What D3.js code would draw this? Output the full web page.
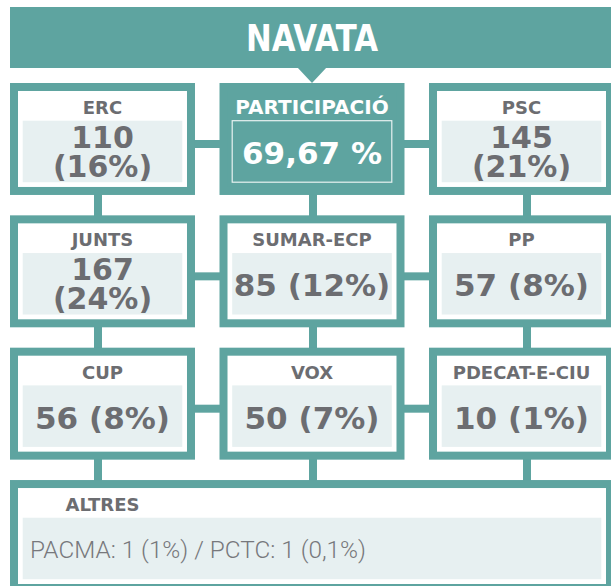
<!DOCTYPE html>
<html>
<head>
<meta charset="utf-8">
<script src="https://cdn.jsdelivr.net/npm/d3@7"></script>
<style>
  html, body { margin: 0; padding: 0; background: #fff; overflow: hidden; }
</style>
</head>
<body>
<svg id="main-svg" width="611" height="586"></svg>
<script>
// Chart data
const title = 'NAVATA';
const participationLabel = 'PARTICIPACIÓ';
const participation = 69.67;

const partyNames = ['ERC', 'PSC', 'JUNTS', 'SUMAR-ECP', 'PP', 'CUP', 'VOX', 'PDECAT-E-CIU'];
const partyVotes = [110, 145, 167, 85, 57, 56, 50, 10];
const partyShares = [16, 21, 24, 12, 8, 8, 7, 1];
// grid cell (row, col) of each party
const partyRows = [0, 0, 1, 1, 1, 2, 2, 2];
const partyCols = [0, 2, 0, 1, 2, 0, 1, 2];

const othersLabel = 'ALTRES';
const otherNames = ['PACMA', 'PCTC'];
const otherVotes = [1, 1];
const otherShares = ['1%', '0,1%'];

// Colours
const teal = '#5ea4a0';
const panelFill = '#e7f0f1';
const grey = '#6c6d71';

const caLocale = d3.formatLocale({ decimal: ',', thousands: '.', grouping: [3], currency: ['', ' €'] });
const fmt2 = caLocale.format('.2f');

const svg = d3.select('#main-svg');
svg.append('rect').attr('width', 611).attr('height', 586).attr('fill', '#fff');

// Layout scales
const x = d3.scaleBand().domain([0, 1, 2]).range([10, 614]).paddingInner(0.117);
const y = d3.scaleBand().domain([0, 1, 2, 3]).range([83, 592]).paddingInner(0.154);
const bw = x.bandwidth();
const bh = y.bandwidth();
const linkOffset = [-4.5, 1, 5.5];
const sw = 8;

// Connectors
const links = svg.append('g');
[0, 1, 2].forEach(r => {
    links.append('rect')
        .attr('x', x(0) + bw / 2)
        .attr('y', y(r) + 57)
        .attr('width', x(2) - x(0))
        .attr('height', 8)
        .attr('fill', teal);
});
[0, 1, 2].forEach(c => {
    links.append('rect')
        .attr('x', x(c) + bw / 2 + linkOffset[c] - 4)
        .attr('y', y(0) + bh / 2)
        .attr('width', 8)
        .attr('height', y(3) - y(0))
        .attr('fill', teal);
});

// Header band
svg.append('rect')
    .attr('x', 10).attr('y', 7)
    .attr('width', 601).attr('height', 61)
    .attr('fill', teal);
const cx1 = x(1) + bw / 2;
svg.append('path')
    .attr('d', `M${cx1 - 15},67 L${cx1 + 15},67 L${cx1},${y(0)} Z`)
    .attr('fill', teal);
svg.append('text')
    .attr('x', cx1).attr('y', 51)
    .attr('text-anchor', 'middle')
    .attr('font-family', '"Liberation Sans Narrow", "DejaVu Sans Condensed", sans-serif')
    .attr('font-weight', 'bold')
    .attr('font-size', 37)
    .attr('textLength', 132)
    .attr('lengthAdjust', 'spacingAndGlyphs')
    .attr('fill', '#fff')
    .text(title);

// Party boxes
const partyData = partyNames.map((name, i) => ({
    name, votes: partyVotes[i], share: partyShares[i], row: partyRows[i], col: partyCols[i]
}));

const cells = svg.selectAll('.cell')
    .data(partyData)
    .enter()
    .append('g')
    .attr('class', 'cell')
    .attr('transform', d => `translate(${x(d.col)}, ${y(d.row)})`);

cells.append('rect')
    .attr('x', sw / 2).attr('y', sw / 2)
    .attr('width', bw - sw).attr('height', bh - sw)
    .attr('fill', '#fff')
    .attr('stroke', teal)
    .attr('stroke-width', sw);

cells.append('rect')
    .attr('x', 12.7).attr('y', 37.7)
    .attr('width', bw - 25.4).attr('height', 61.5)
    .attr('fill', panelFill);

cells.append('text')
    .attr('x', bw / 2).attr('y', 31)
    .attr('text-anchor', 'middle')
    .attr('font-family', '"DejaVu Sans", sans-serif')
    .attr('font-weight', 'bold')
    .attr('font-size', 18)
    .attr('fill', grey)
    .text(d => d.name);

cells.each(function (d) {
    const g = d3.select(this);
    const t = g.append('text')
        .attr('text-anchor', 'middle')
        .attr('font-family', '"DejaVu Sans", sans-serif')
        .attr('font-weight', 'bold')
        .attr('fill', grey);
    if (d.votes >= 100) {
        t.attr('font-size', 30);
        t.append('tspan').attr('x', bw / 2).attr('y', 65).text(d.votes);
        t.append('tspan').attr('x', bw / 2).attr('y', 93.5).text(`(${d.share}%)`);
    } else {
        t.attr('font-size', 31)
            .attr('x', bw / 2).attr('y', 81)
            .text(`${d.votes} (${d.share}%)`);
    }
});

// Participation box
const pg = svg.append('g').attr('transform', `translate(${x(1)}, ${y(0)})`);
pg.append('rect')
    .attr('x', sw / 2).attr('y', sw / 2)
    .attr('width', bw - sw).attr('height', bh - sw)
    .attr('fill', teal)
    .attr('stroke', teal)
    .attr('stroke-width', sw);
pg.append('rect')
    .attr('x', 12.7).attr('y', 37.7)
    .attr('width', bw - 25.4).attr('height', 61.5)
    .attr('fill', 'none')
    .attr('stroke', '#fff')
    .attr('stroke-opacity', 0.85)
    .attr('stroke-width', 1.2);
pg.append('text')
    .attr('x', bw / 2).attr('y', 30.5)
    .attr('text-anchor', 'middle')
    .attr('font-family', '"DejaVu Sans", sans-serif')
    .attr('font-weight', 'bold')
    .attr('font-size', 20)
    .attr('fill', '#fff')
    .text(participationLabel);
pg.append('text')
    .attr('x', bw / 2).attr('y', 80.5)
    .attr('text-anchor', 'middle')
    .attr('font-family', '"DejaVu Sans", sans-serif')
    .attr('font-weight', 'bold')
    .attr('font-size', 31)
    .attr('fill', '#fff')
    .text(`${fmt2(participation)} %`);

// Others box
const og = svg.append('g').attr('transform', `translate(${x(0)}, ${y(3)})`);
const ow = x(2) + bw - x(0);
og.append('rect')
    .attr('x', sw / 2).attr('y', sw / 2)
    .attr('width', ow - sw).attr('height', bh - sw)
    .attr('fill', '#fff')
    .attr('stroke', teal)
    .attr('stroke-width', sw);
og.append('rect')
    .attr('x', 12.7).attr('y', 37.7)
    .attr('width', ow - 25.4).attr('height', 61.5)
    .attr('fill', panelFill);
og.append('text')
    .attr('x', bw / 2).attr('y', 31)
    .attr('text-anchor', 'middle')
    .attr('font-family', '"DejaVu Sans", sans-serif')
    .attr('font-weight', 'bold')
    .attr('font-size', 18)
    .attr('fill', grey)
    .text(othersLabel);
og.append('text')
    .attr('x', 20).attr('y', 78)
    .attr('font-family', 'Roboto, Lato, "Open Sans", sans-serif')
    .attr('font-weight', 300)
    .attr('font-size', 23)
    .attr('fill', '#77787c')
    .attr('textLength', 336)
    .attr('lengthAdjust', 'spacingAndGlyphs')
    .text(otherNames.map((n, i) => `${n}: ${otherVotes[i]} (${otherShares[i]})`).join(' / '));
</script>
</body>
</html>
